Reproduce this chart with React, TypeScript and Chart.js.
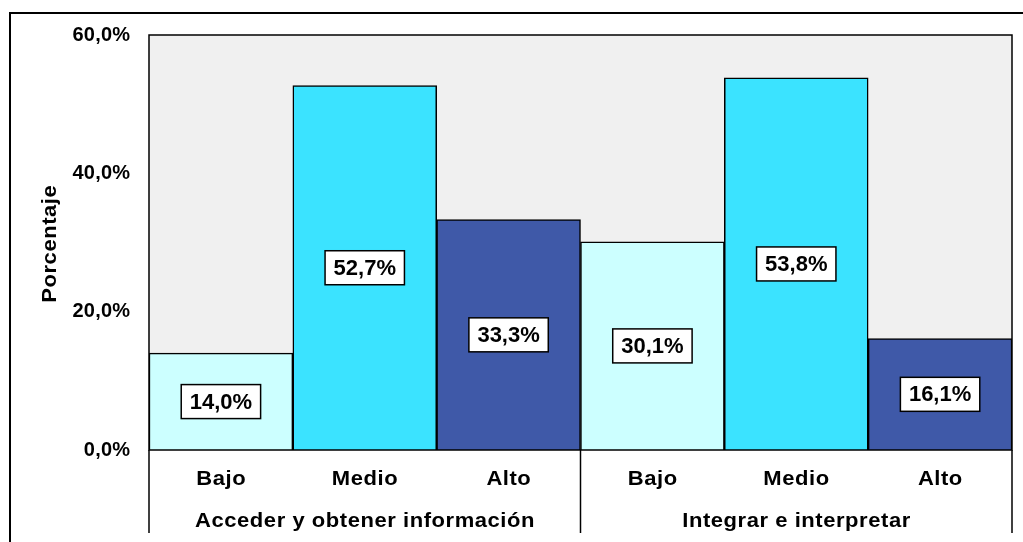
import { useEffect, useRef } from "react";
import { Chart, registerables } from "chart.js";
Chart.register(...registerables);

const levels = ["Bajo", "Medio", "Alto", "Bajo", "Medio", "Alto"];
const groups = ["Acceder y obtener información", "Integrar e interpretar"];
const groupSizes = [3, 3];
const values = [14.0, 52.7, 33.3, 30.1, 53.8, 16.1];
const valueLabels = ["14,0%", "52,7%", "33,3%", "30,1%", "53,8%", "16,1%"];
const barColors = ["#ccffff", "#3be3ff", "#3f59a8", "#ccffff", "#3be3ff", "#3f59a8"];
const yTicks = [0, 20, 40, 60];
const yTickLabels = ["0,0%", "20,0%", "40,0%", "60,0%"];
const yTitle = "Porcentaje";

const FONT = "Arial, 'Liberation Sans', sans-serif";

function drawText(ctx: any, text: string, x: number, y: number, sx: number, ls: number, align: string) {
  ctx.save();
  ctx.translate(x, y);
  ctx.scale(sx, 1);
  ctx.letterSpacing = `${ls}px`;
  ctx.textAlign = align;
  ctx.textBaseline = "middle";
  const off = align === "center" ? ls / 2 : align === "right" ? ls : 0;
  ctx.fillText(text, off, 0);
  ctx.restore();
}

const drawPlugin = {
  id: "customDraw",
  beforeDatasetsDraw(chart: any) {
    const { ctx, chartArea: a } = chart;
    ctx.save();
    ctx.fillStyle = "#f0f0f0";
    ctx.fillRect(a.left, a.top, a.right - a.left, a.bottom - a.top);
    ctx.restore();
  },
  afterDatasetsDraw(chart: any) {
    const { ctx, chartArea: a, scales } = chart;
    const x = scales.x;
    const y = scales.y;
    ctx.save();
    // plot border
    ctx.strokeStyle = "#000";
    ctx.lineWidth = 1.5;
    ctx.strokeRect(a.left, a.top, a.right - a.left, a.bottom - a.top);

    // y tick labels
    ctx.fillStyle = "#000";
    ctx.font = `bold 20px ${FONT}`;
    yTicks.forEach((t, i) => {
      drawText(ctx, yTickLabels[i], a.left - 19, y.getPixelForValue(t), 1.0, 0.2, "right");
    });

    // y title
    ctx.save();
    ctx.translate(50, (a.top + a.bottom) / 2 + 1.5);
    ctx.rotate(-Math.PI / 2);
    ctx.font = `bold 20px ${FONT}`;
    drawText(ctx, yTitle, 0, 0, 1.1, 0.5, "center");
    ctx.restore();

    // category labels
    ctx.font = `bold 20px ${FONT}`;
    levels.forEach((l, i) => {
      drawText(ctx, l, x.getPixelForValue(i), a.bottom + 29, 1.1, 0.5, "center");
    });

    // group labels and separators
    const half = (x.getPixelForValue(1) - x.getPixelForValue(0)) / 2;
    let start = 0;
    const seps: number[] = [x.getPixelForValue(0) - half];
    groups.forEach((g, gi) => {
      const end = start + groupSizes[gi] - 1;
      const cx = (x.getPixelForValue(start) + x.getPixelForValue(end)) / 2;
      drawText(ctx, g, cx, a.bottom + 71, 1.1, 0.5, "center");
      seps.push(x.getPixelForValue(end) + half);
      start = end + 1;
    });
    ctx.lineWidth = 1.5;
    seps.forEach((sx) => {
      ctx.beginPath();
      ctx.moveTo(sx, a.bottom);
      ctx.lineTo(sx, a.bottom + 83);
      ctx.stroke();
    });

    // data labels
    const meta = chart.getDatasetMeta(0);
    ctx.font = `bold 22px ${FONT}`;
    meta.data.forEach((bar: any, i: number) => {
      const cy = (bar.y + bar.base) / 2;
      const w = ctx.measureText(valueLabels[i]).width + 17;
      const h = 34;
      ctx.fillStyle = "#fff";
      ctx.fillRect(bar.x - w / 2, cy - h / 2, w, h);
      ctx.strokeStyle = "#000";
      ctx.lineWidth = 1.5;
      ctx.strokeRect(bar.x - w / 2, cy - h / 2, w, h);
      ctx.fillStyle = "#000";
      drawText(ctx, valueLabels[i], bar.x, cy + 1, 1.0, 0, "center");
    });

    // outer border
    ctx.lineWidth = 2;
    ctx.strokeStyle = "#000";
    ctx.strokeRect(10, 13, 1040, 600);
    ctx.restore();
  },
};

export default function App() {
  const ref = useRef<HTMLCanvasElement | null>(null);
  useEffect(() => {
    if (!ref.current) return;
    const chart = new Chart(ref.current, {
      type: "bar",
      data: {
        labels: levels,
        datasets: [
          {
            data: values,
            backgroundColor: barColors,
            borderColor: "#000",
            borderWidth: 1.5,
            categoryPercentage: 1,
            barPercentage: 1,
          },
        ],
      },
      options: {
        responsive: false,
        animation: false,
        layout: { padding: { left: 149, top: 35, right: 11, bottom: 92 } },
        plugins: { legend: { display: false }, tooltip: { enabled: false } },
        scales: {
          x: { display: false },
          y: { display: false, min: 0, max: 60 },
        },
      },
      plugins: [drawPlugin],
    });
    return () => chart.destroy();
  }, []);
  return (
    <div style={{ position: "absolute", left: 0, top: 0, width: 1023, height: 542, background: "#fff" }}>
      <canvas ref={ref} width={1023} height={542} style={{ display: "block" }} />
    </div>
  );
}
